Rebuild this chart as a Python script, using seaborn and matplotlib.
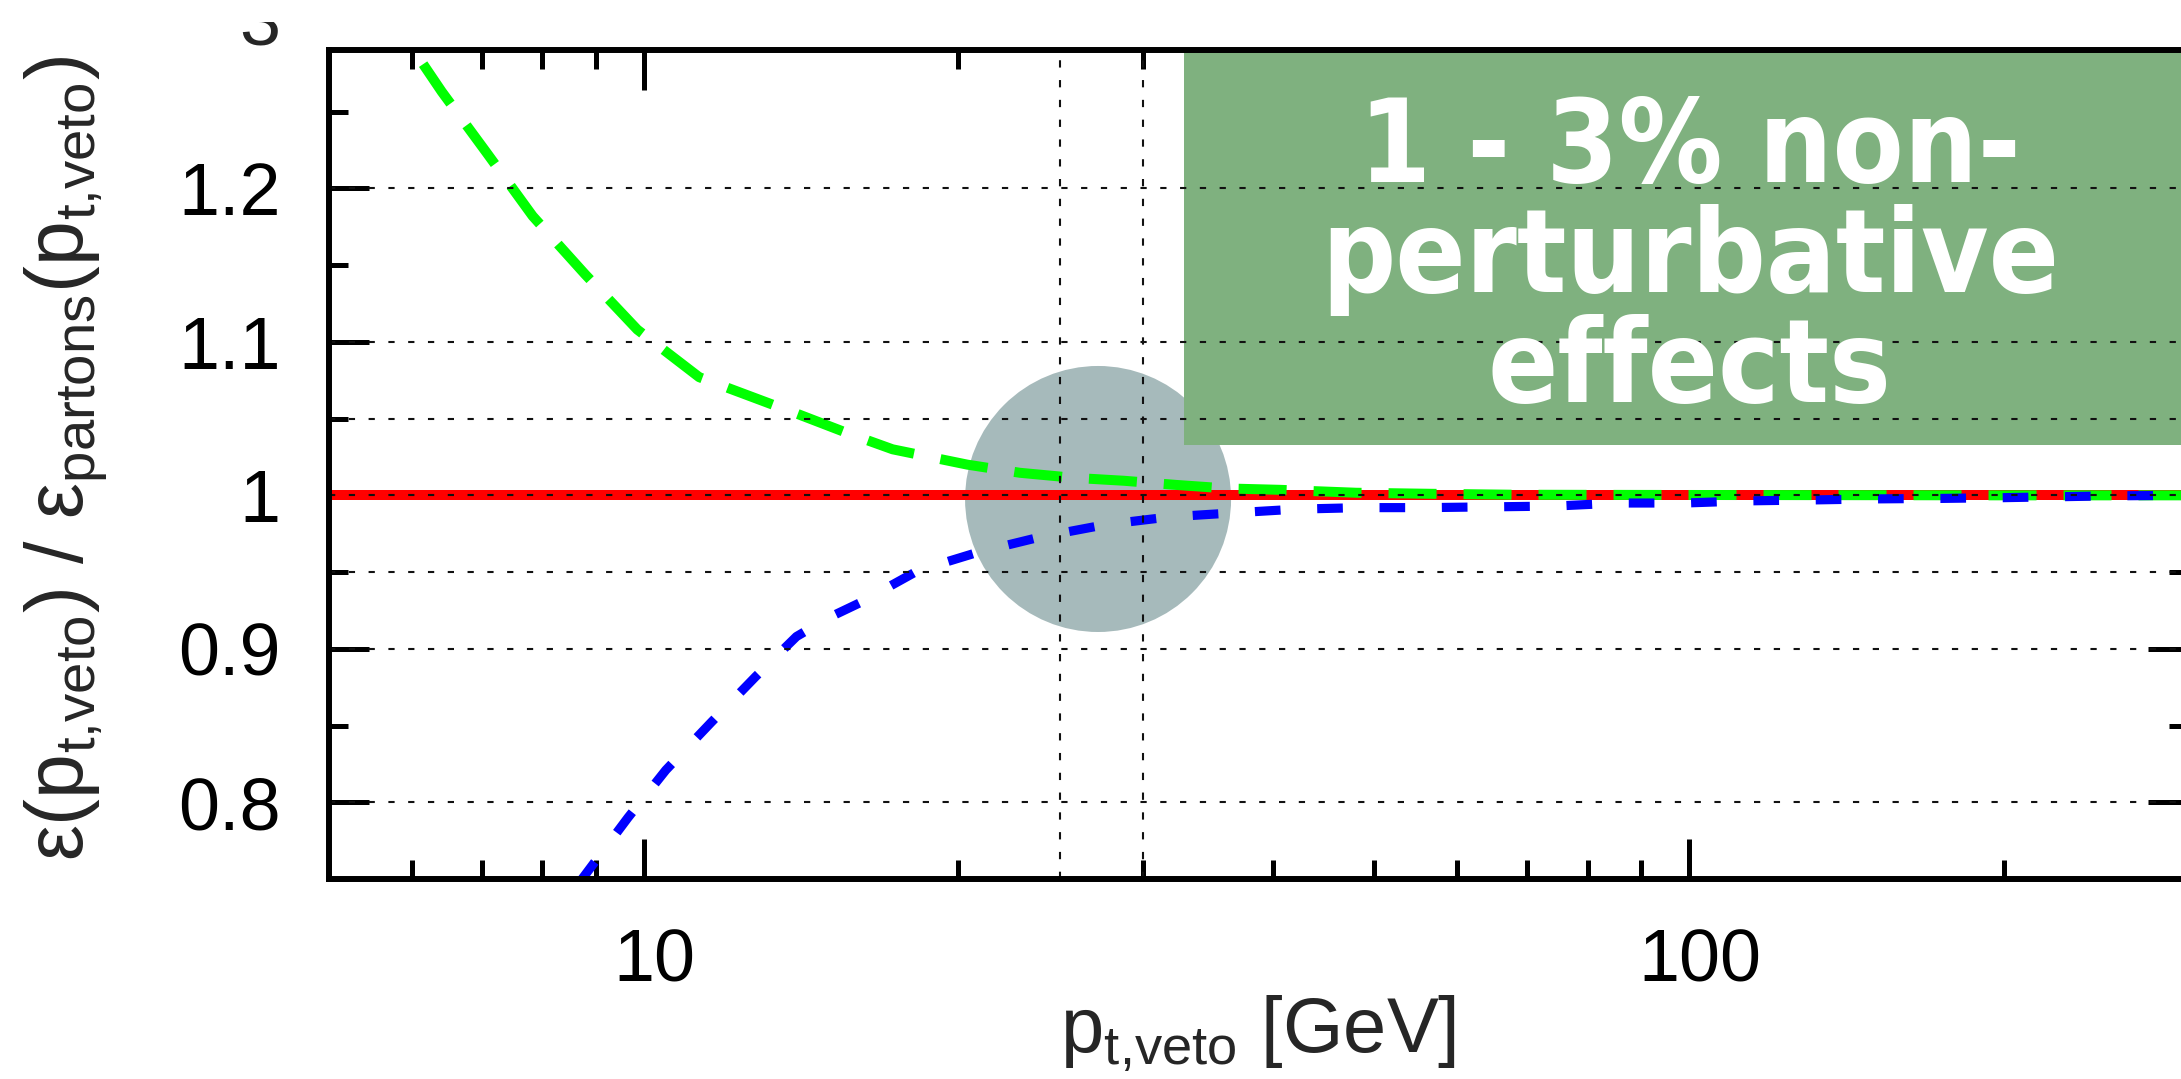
import numpy as np
import pandas as pd
import matplotlib
matplotlib.use("Agg")
import matplotlib.pyplot as plt
import matplotlib.transforms as mtransforms
import seaborn as sns
from matplotlib import font_manager
from matplotlib.patches import Ellipse, Rectangle

# ---------------- data ----------------
x_major_ticks = [10, 100]
x_major_labels = ["10", "100"]
x_minor_ticks = [5, 6, 7, 8, 9, 20, 30, 40, 50, 60, 70, 80, 90, 200, 300]
y_major_ticks = [0.8, 0.9, 1.0, 1.1, 1.2]
y_major_labels = ["0.8", "0.9", "1", "1.1", "1.2"]
y_minor_ticks = [0.75, 0.85, 0.95, 1.05, 1.15, 1.25]
y_grid_values = [0.8, 0.9, 0.95, 1.0, 1.05, 1.1, 1.2]
x_marker_lines = [25, 30]

ref_x = [5, 300]
ref_y = [1.0, 1.0]

green_x = [5.5, 6.04, 6.41, 7.08, 7.83, 8.79, 9.86, 11.3, 14.1, 15.6, 17.3, 20.4,
           22.9, 25.8, 28.8, 32.3, 36.1, 40.6, 48.0, 56.8, 67.9, 85, 110, 150, 200, 300]
green_y = [1.34, 1.289, 1.263, 1.223, 1.182, 1.144, 1.108, 1.077, 1.0525, 1.041, 1.030, 1.020,
           1.0147, 1.0114, 1.0095, 1.0068, 1.0045, 1.0036, 1.0017, 1.001, 1.0004, 1.0003,
           1.0002, 1.0001, 1.0, 1.0]

blue_x = [8.0, 8.73, 9.66, 10.5, 11.6, 12.8, 14.0, 15.0, 16.1, 18.3, 20.9, 24.0, 27.7, 31.9,
          36.7, 42.1, 48.5, 56.1, 64.6, 74.3, 85.7, 98.9, 113.6, 131, 151, 174, 200, 255, 300]
blue_y = [0.715, 0.75, 0.790, 0.821, 0.852, 0.882, 0.908, 0.920, 0.930, 0.951, 0.963, 0.973,
          0.981, 0.986, 0.9886, 0.991, 0.992, 0.992, 0.9925, 0.993, 0.995, 0.995, 0.9964,
          0.997, 0.9977, 0.998, 0.9985, 0.9997, 1.0]

x_label = r"p$_{t{,}veto}$ [GeV]"
y_label = r"ε(p$_{t{,}veto}$) / ε$_{partons}$(p$_{t{,}veto}$)"
box_text = "1 - 3% non-\nperturbative\neffects"
cut_label = "3"

# ---------------- style ----------------
sns.set_theme(style="ticks")
names = {f.name for f in font_manager.fontManager.ttflist}
base_font = "Liberation Sans" if "Liberation Sans" in names else "DejaVu Sans"
if "Liberation Sans Narrow" in names:
    box_font = dict(family="Liberation Sans Narrow", weight="bold")
else:
    box_font = dict(family="DejaVu Sans", weight="bold", stretch="condensed")

plt.rcParams["font.family"] = [base_font, "DejaVu Sans"]
plt.rcParams["mathtext.fontset"] = "custom"
plt.rcParams["mathtext.rm"] = base_font
plt.rcParams["mathtext.it"] = base_font
plt.rcParams["mathtext.bf"] = base_font
plt.rcParams["mathtext.default"] = "regular"

W, H = 2181, 1079
fig = plt.figure(figsize=(W / 100, H / 100), dpi=100)
L, R, T, B = 329, 2188, 50, 879
ax = fig.add_axes([L / W, (H - B) / H, (R - L) / W, (B - T) / H])
ax.set_facecolor("white")
ax.set_xscale("log")
ax.set_xlim(5, 300)
ax.set_ylim(0.75, 1.2902)

# background shapes
ax.add_patch(Ellipse((0.4137, 0.4584), width=0.1431, height=0.3209,
                     transform=ax.transAxes, facecolor="#a6babb", edgecolor="none", zorder=0.5))
ax.add_patch(Rectangle((0.4599, 0.5235), 0.6, 0.48, transform=ax.transAxes,
                       facecolor="#7fb17f", edgecolor="none", zorder=0.6))

# curves
df_ref = pd.DataFrame({"x": ref_x, "y": ref_y})
df_g = pd.DataFrame({"x": green_x, "y": green_y})
df_b = pd.DataFrame({"x": blue_x, "y": blue_y})
sns.lineplot(data=df_ref, x="x", y="y", ax=ax, color="#ff0000", linewidth=7.2, zorder=2)
sns.lineplot(data=df_g, x="x", y="y", ax=ax, color="#00ff00", linewidth=7.2,
             linestyle=(0, (4.8, 2.7)), zorder=3)
sns.lineplot(data=df_b, x="x", y="y", ax=ax, color="#0000ff", linewidth=6.6,
             linestyle=(0, (2.8, 4.0)), zorder=4)

# grid lines (front)
for yv in y_grid_values:
    ax.axhline(yv, color="#111111", linewidth=1.5, linestyle=(0, (3, 6.5)), zorder=5)
for xv in x_marker_lines:
    ax.axvline(xv, color="#111111", linewidth=1.5, linestyle=(0, (3.5, 6)), zorder=5)

# box text
ax.text(0.732, 0.7467, box_text, transform=ax.transAxes, ha="center", va="center",
        color="white", fontsize=83, linespacing=0.98, zorder=7, **box_font)

# ticks
ax.set_xticks(x_major_ticks, labels=x_major_labels)
ax.set_xticks(x_minor_ticks, minor=True)
ax.xaxis.set_minor_formatter(matplotlib.ticker.NullFormatter())
ax.set_yticks(y_major_ticks, labels=y_major_labels)
ax.set_yticks(y_minor_ticks, minor=True)
ax.tick_params(which="both", direction="in", top=True, right=True, color="black",
               labelcolor="black", zorder=8)
ax.tick_params(which="major", length=29, width=3.6, labelsize=53, pad=35)
ax.tick_params(which="minor", length=13.5, width=3.6)
shift = mtransforms.ScaledTranslation(11 / 100, 0, fig.dpi_scale_trans)
for lab in ax.get_xticklabels():
    lab.set_transform(lab.get_transform() + shift)
for sp in ax.spines.values():
    sp.set_visible(True)
    sp.set_linewidth(4.3)
    sp.set_color("black")
    sp.set_zorder(9)

ax.set_xlabel(x_label, fontsize=56)
ax.set_ylabel(y_label, fontsize=58)
ax.xaxis.set_label_coords(0.5, -0.138)
ax.yaxis.set_label_coords(-0.117, 0.507)

# remnant of a cut-off label at the top edge
t = fig.text(280 / W, 1 - 46 / H, cut_label, ha="right", va="baseline", fontsize=53)
t.set_clip_box(mtransforms.Bbox.from_extents(0, 0, W, H - 22))
t.set_clip_on(True)

fig.savefig("out.png", dpi=100)
